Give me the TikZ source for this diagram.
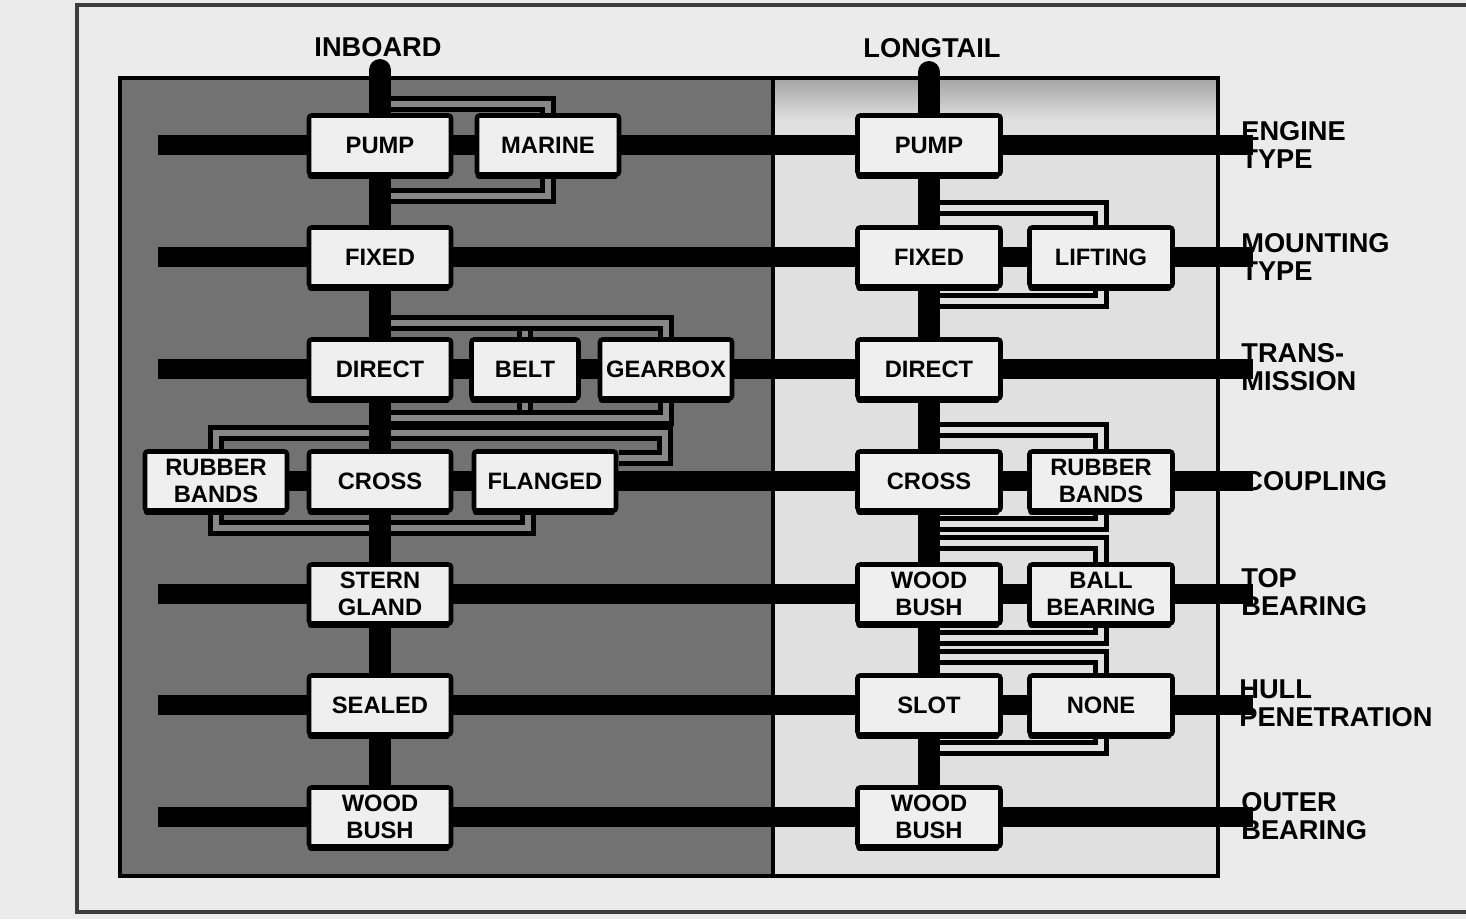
\documentclass[tikz,border=0pt]{standalone}
\usepackage{fontspec}
\setmainfont{Liberation Sans}
\usetikzlibrary{shadows}
\pgfdeclarelayer{back}
\pgfdeclarelayer{conn}
\pgfsetlayers{back,conn,main}
\definecolor{bgcol}{HTML}{EBEBEB}
\definecolor{darkpanel}{HTML}{727272}
\definecolor{lightpanel}{HTML}{E0E0E0}
\definecolor{boxfill}{HTML}{EFEFEF}
\definecolor{framecol}{HTML}{3C3C3C}
\begin{document}
\begin{tikzpicture}[x=0.02cm,y=-0.02cm,
  box/.style={draw=black, line width=2.6pt, fill=boxfill, rounded corners=1.5pt, inner sep=0pt,
    minimum width=2.84cm, minimum height=1.18cm, align=center,
    font=\bfseries\fontsize{13.5}{15.5}\selectfont,
    drop shadow={shadow xshift=-0.6pt, shadow yshift=-2.5pt, fill=black, opacity=1}},
  rbox/.style={box, minimum width=2.86cm},
  spine/.style={line width=12.5pt, line cap=round},
  bar/.style={line width=11.3pt},
  brkL/.style={draw=black, line width=2.7pt, double=darkpanel!85!white, double distance=3.8pt, line join=miter},
  brkR/.style={draw=black, line width=2.7pt, double=lightpanel, double distance=3.8pt, line join=miter},
  lab/.style={anchor=west, align=left, inner sep=0pt, font=\bfseries\fontsize{15.5}{16}\selectfont},
  ttl/.style={inner sep=0pt, font=\bfseries\fontsize{15.5}{16}\selectfont}
]
\useasboundingbox (0,0) rectangle (1466,919);

% ---------- background, frame, panels ----------
\begin{pgfonlayer}{back}
\fill[bgcol] (0,0) rectangle (1466,919);
\draw[framecol, line width=2.2pt] (1466,5) -- (77,5) -- (77,912) -- (1466,912);
\fill[darkpanel] (120,78) rectangle (773,876);
\fill[lightpanel] (773,78) rectangle (1218,876);
\shade[top color=black!35, bottom color=lightpanel] (773,80) rectangle (1218,120);
\draw[line width=2.8pt] (120,78) rectangle (1218,876);
\draw[line width=2.8pt] (773,78) -- (773,876);
\end{pgfonlayer}

% ---------- boxes: inboard ----------
\node[box] (ipump) at (380,145) {PUMP};
\node[box] (imarine) at (548,145) {MARINE};
\node[box] (ifixed) at (380,257) {FIXED};
\node[box] (idirect) at (380,369) {DIRECT};
\node[box, minimum width=2.14cm] (ibelt) at (525,369) {BELT};
\node[box, minimum width=2.64cm] (igear) at (666,369) {GEARBOX};
\node[box] (irubber) at (216,481) {RUBBER\\BANDS};
\node[box] (icross) at (380,481) {CROSS};
\node[box] (iflanged) at (545,481) {FLANGED};
\node[box] (istern) at (380,594) {STERN\\GLAND};
\node[box] (isealed) at (380,705) {SEALED};
\node[box] (iwood) at (380,817) {WOOD\\BUSH};

% ---------- boxes: longtail ----------
\node[rbox] (rpump) at (929,145) {PUMP};
\node[rbox] (rfixed) at (929,257) {FIXED};
\node[rbox] (rlift) at (1101,257) {LIFTING};
\node[rbox] (rdirect) at (929,369) {DIRECT};
\node[rbox] (rcross) at (929,481) {CROSS};
\node[rbox] (rrub) at (1101,481) {RUBBER\\BANDS};
\node[rbox] (rwood1) at (929,594) {WOOD\\BUSH};
\node[rbox] (rball) at (1101,594) {BALL\\BEARING};
\node[rbox] (rslot) at (929,705) {SLOT};
\node[rbox] (rnone) at (1101,705) {NONE};
\node[rbox] (rwood2) at (929,817) {WOOD\\BUSH};

% ---------- titles and row labels ----------
\node[ttl] (tin) at (378,47) {INBOARD};
\node[ttl] (tlong) at (932,48) {LONGTAIL};
\node[lab] (l1) at (1241,145) {ENGINE\\TYPE};
\node[lab] (l2) at (1241,257) {MOUNTING\\TYPE};
\node[lab] (l3) at (1241,367) {TRANS-\\MISSION};
\node[lab] (l4) at (1243,481) {COUPLING};
\node[lab] (l5) at (1241,592) {TOP\\BEARING};
\node[lab] (l6) at (1239,703) {HULL\\PENETRATION};
\node[lab] (l7) at (1241,816) {OUTER\\BEARING};

% ---------- coordinates ----------
\coordinate (itop) at (380,70);
\coordinate (rtop) at (929,72);
\coordinate (s1) at (158,145); \coordinate (e1) at (1253,145);
\coordinate (s2) at (158,257); \coordinate (e2) at (1253,257);
\coordinate (s3) at (158,369); \coordinate (e3) at (1253,369);
\coordinate (e4) at (1253,481);
\coordinate (s5) at (158,594); \coordinate (e5) at (1253,594);
\coordinate (s6) at (158,705); \coordinate (e6) at (1253,705);
\coordinate (s7) at (158,817); \coordinate (e7) at (1253,817);
\coordinate (b1) at (380,104);
\coordinate (b2) at (380,196);
\coordinate (b3) at (380,323);
\coordinate (b4) at (380,418);
\coordinate (b5) at (665,433);
\coordinate (b5d) at (665,458);
\coordinate (b5e) at (619,458);
\coordinate (b6) at (528,528);
\coordinate (q1) at (929,208);
\coordinate (q2) at (929,301);
\coordinate (q3) at (929,430);
\coordinate (q4) at (929,524);
\coordinate (q5) at (929,543);
\coordinate (q6) at (929,638);
\coordinate (q7) at (929,657);
\coordinate (q8) at (929,748);

% ---------- connectors ----------
\begin{pgfonlayer}{conn}
% branch brackets, inboard
\draw[brkL] (b1) -| (imarine.north);
\draw[brkL] (b2) -| (imarine.south);
\draw[brkL] (ibelt.north) -- (ibelt.north |- b3);
\draw[brkL] (b3) -| (igear.north);
\draw[brkL] (ibelt.south) -- (ibelt.south |- b4);
\draw[brkL] (b4) -| (igear.south);
\draw[brkL] (irubber.north) |- (b5) -- (b5d) -- (b5e);
\draw[brkL] (irubber.south) |- (b6) -- (b6 |- iflanged.south);
% branch brackets, longtail
\draw[brkR] (q1) -| (rlift.north);
\draw[brkR] (q2) -| (rlift.south);
\draw[brkR] (q3) -| (rrub.north);
\draw[brkR] (q4) -| (rrub.south);
\draw[brkR] (q5) -| (rball.north);
\draw[brkR] (q6) -| (rball.south);
\draw[brkR] (q7) -| (rnone.north);
\draw[brkR] (q8) -| (rnone.south);
% spines
\draw[spine] (itop) -- (ipump) -- (ifixed) -- (idirect) -- (icross) -- (istern) -- (isealed) -- (iwood);
\draw[spine] (rtop) -- (rpump) -- (rfixed) -- (rdirect) -- (rcross) -- (rwood1) -- (rslot) -- (rwood2);
% row bars
\draw[bar] (s1) -- (ipump) -- (imarine) -- (rpump) -- (e1);
\draw[bar] (s2) -- (ifixed) -- (rfixed) -- (rlift) -- (e2);
\draw[bar] (s3) -- (idirect) -- (ibelt) -- (igear) -- (rdirect) -- (e3);
\draw[bar] (irubber) -- (icross) -- (iflanged) -- (rcross) -- (rrub) -- (e4);
\draw[bar] (s5) -- (istern) -- (rwood1) -- (rball) -- (e5);
\draw[bar] (s6) -- (isealed) -- (rslot) -- (rnone) -- (e6);
\draw[bar] (s7) -- (iwood) -- (rwood2) -- (e7);
\end{pgfonlayer}
\end{tikzpicture}
\end{document}
